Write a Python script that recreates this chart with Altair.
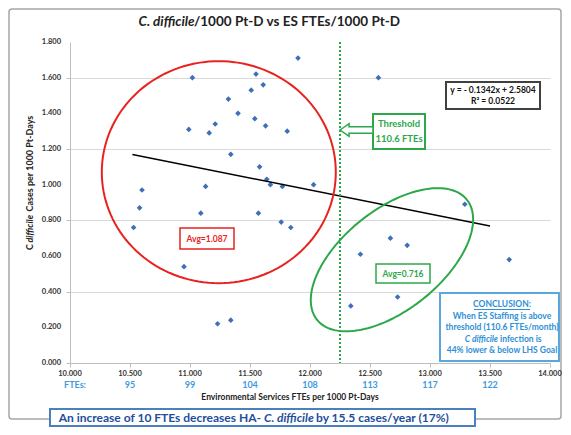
import altair as alt
import pandas as pd
import numpy as np

# ---- data ----
fte_x = [10.53, 10.58, 10.60, 10.95, 10.99, 11.02, 11.09, 11.13, 11.16, 11.21,
         11.23, 11.32, 11.34, 11.34, 11.40, 11.51, 11.54, 11.55, 11.57, 11.58,
         11.61, 11.63, 11.64, 11.67, 11.77, 11.76, 11.81, 11.84, 11.90, 12.03,
         12.34, 12.42, 12.57, 12.67, 12.73, 12.81, 13.29, 13.66]
cdiff_y = [0.76, 0.87, 0.97, 0.54, 1.31, 1.60, 0.84, 0.99, 1.29, 1.34,
           0.22, 1.48, 1.17, 0.24, 1.40, 1.53, 1.37, 1.62, 0.84, 1.10,
           1.56, 1.33, 1.03, 1.00, 0.99, 0.79, 1.30, 0.76, 1.71, 1.00,
           0.32, 0.61, 1.60, 0.70, 0.37, 0.66, 0.89, 0.58]

x_ticks = [10.0, 10.5, 11.0, 11.5, 12.0, 12.5, 13.0, 13.5, 14.0]
y_ticks = [0.0, 0.2, 0.4, 0.6, 0.8, 1.0, 1.2, 1.4, 1.6, 1.8]
fte_tick_x = [10.5, 11.0, 11.5, 12.0, 12.5, 13.0, 13.5]
fte_labels = ["95", "99", "104", "108", "113", "117", "122"]

slope, intercept = -0.1342, 2.5804
trend_x = [10.52, 13.50]
threshold_x = 12.25

# annotation ellipses: centre (data units), semi-axes (px), tilt (deg)
red_ellipse = dict(cx=11.24, cy=1.07, a=117, b=111, tilt=0)
green_ellipse = dict(cx=12.683, cy=0.579, a=96, b=50, tilt=38.7)

W, H = 480, 321
PX_X = W / 4.0     # px per x unit
PX_Y = H / 1.8     # px per y unit
FONT = "Lato"
BLUE_PT = "#3F6FB6"
RED = "#E8231F"
GREEN = "#2CA84A"
LBLUE = "#2E8FD6"
CAP_BLUE = "#1F4E9C"

xs = alt.Scale(domain=[10, 14], nice=False, zero=False)
ys = alt.Scale(domain=[0, 1.8], nice=False)

one = pd.DataFrame({"a": [0]})

def rect(x1, y1, x2, y2, stroke, sw=2, fill="white", fo=1.0, cr=0):
    return alt.Chart(one).mark_rect(stroke=stroke, strokeWidth=sw, fill=fill,
                                    fillOpacity=fo, cornerRadius=cr).encode(
        x=alt.value(x1), x2=alt.value(x2), y=alt.value(y1), y2=alt.value(y2))

def text(x, y, t, size=9, color="#222", align="center", italic=False, angle=0, weight="bold"):
    kw = dict(text=t, font=FONT, fontSize=size, fontWeight=weight, color=color,
              align=align, baseline="middle", angle=angle)
    if italic:
        kw["fontStyle"] = "italic"
    return alt.Chart(one).mark_text(**kw).encode(x=alt.value(x), y=alt.value(y))

def ellipse_layer(e, color):
    t = np.linspace(0, 2 * np.pi, 145)
    phi = np.radians(e["tilt"])
    dx_px = e["a"] * np.cos(t) * np.cos(phi) - e["b"] * np.sin(t) * np.sin(phi)
    dy_px = e["a"] * np.cos(t) * np.sin(phi) + e["b"] * np.sin(t) * np.cos(phi)
    df = pd.DataFrame({"x": e["cx"] + dx_px / PX_X, "y": e["cy"] + dy_px / PX_Y,
                       "o": np.arange(len(t))})
    return alt.Chart(df).mark_line(color=color, strokeWidth=2).encode(
        x=alt.X("x:Q", scale=xs), y=alt.Y("y:Q", scale=ys), order="o:Q")

# outer frame
frame = rect(-61, -33, 491, 377, "#A6A6A6", sw=1.5, fo=0.0, cr=3)

# points with axes (labels drawn as text marks below)
pts = pd.DataFrame({"x": fte_x, "y": cdiff_y})
points = alt.Chart(pts).mark_point(shape="diamond", filled=True, color=BLUE_PT,
                                    size=32, opacity=1).encode(
    x=alt.X("x:Q", scale=xs, axis=alt.Axis(values=x_ticks, title=None, grid=False,
                                           tickSize=4, labels=False)),
    y=alt.Y("y:Q", scale=ys, axis=alt.Axis(values=y_ticks, title=None, grid=True,
                                           tickSize=4, labels=False)))

ylab_df = pd.DataFrame({"v": y_ticks, "lab": [f"{v:.3f}" for v in y_ticks]})
ylabels = alt.Chart(ylab_df).mark_text(font=FONT, fontSize=7.5, fontWeight="bold",
                                       color="#333", align="right", baseline="middle").encode(
    y=alt.Y("v:Q", scale=ys), x=alt.value(-9), text="lab:N")
xlab_df = pd.DataFrame({"v": x_ticks, "lab": [f"{v:.3f}" for v in x_ticks]})
xlabels = alt.Chart(xlab_df).mark_text(font=FONT, fontSize=7.5, fontWeight="bold",
                                       color="#333", baseline="middle").encode(
    x=alt.X("v:Q", scale=xs), y=alt.value(H + 11), text="lab:N")

# trend line
tdf = pd.DataFrame({"x": trend_x, "y": [slope * v + intercept for v in trend_x]})
trend = alt.Chart(tdf).mark_line(color="black", strokeWidth=1.5).encode(
    x=alt.X("x:Q", scale=xs), y=alt.Y("y:Q", scale=ys))

# threshold line
thr = alt.Chart(pd.DataFrame({"x": [threshold_x]})).mark_rule(
    color=GREEN, strokeWidth=2, strokeDash=[2, 2]).encode(
    x=alt.X("x:Q", scale=xs), y=alt.value(0), y2=alt.value(H))

# arrow
arrow = alt.Chart(one).mark_point(
    shape="M -1 0 L -0.45 -0.38 L -0.45 -0.2 L 1 -0.2 L 1 0.2 L -0.45 0.2 L -0.45 0.38 Z",
    filled=True, fill="white", stroke=GREEN, strokeWidth=1.5, size=1089, opacity=1).encode(
    x=alt.value(286.5), y=alt.value(88))

layers = [
    frame, points, ylabels, xlabels, trend, thr,
    ellipse_layer(red_ellipse, RED), ellipse_layer(green_ellipse, GREEN),
    # threshold box
    rect(303, 72, 355, 107, GREEN, sw=2),
    text(329, 82, "Threshold", size=9.5, color=GREEN),
    text(329, 97, "110.6 FTEs", size=9.5, color=GREEN),
    arrow,
    # equation box
    rect(376, 40, 470, 67, "#404040", sw=2),
    text(423, 47.5, "y = - 0.1342x + 2.5804", size=8.5, color="#111"),
    text(423, 59, "R² = 0.0522", size=8.5, color="#111"),
    # avg boxes
    rect(110, 186, 164, 207, RED, sw=1.5),
    text(137, 196.5, "Avg=1.087", size=8.5, color=RED),
    rect(306, 222, 360, 241, GREEN, sw=1.5),
    text(333, 231.5, "Avg=0.716", size=8.5, color=GREEN),
    # conclusion box
    rect(370, 251, 489, 319, "#5AA7E0", sw=2),
    text(432, 262, "CONCLUSION:", size=8.5, color=LBLUE),
    alt.Chart(one).mark_rule(color=LBLUE, strokeWidth=1).encode(
        x=alt.value(404), x2=alt.value(460), y=alt.value(267.5)),
    text(432, 273.5, "When ES Staffing is above", size=8.5, color=LBLUE),
    text(432, 285, "threshold (110.6 FTEs/month)", size=8.5, color=LBLUE),
    text(428, 296.5, "C difficile", size=8.5, color=LBLUE, align="right", italic=True),
    text(430, 296.5, "infection is", size=8.5, color=LBLUE, align="left"),
    text(432, 308, "44% lower & below LHS Goal", size=8.5, color=LBLUE),
    # title
    text(124.5, -20, "C. difficile", size=13.5, color="#222", align="right", italic=True),
    text(124, -20, "/1000 Pt-D vs ES FTEs/1000 Pt-D", size=13.5, color="#222", align="left"),
    # y title (rotated, mixed styles)
    text(-40, 208, "C", size=9, color="#222", align="left", angle=270),
    text(-40, 200.5, "difficile", size=9, color="#222", align="left", angle=270, italic=True),
    text(-40, 169.5, "Cases per 1000 Pt-Days", size=9, color="#222", align="left", angle=270),
    # FTE row
    text(5, 343, "FTEs:", size=9, color="#3D9BE0"),
    # x title
    text(220, 355, "Environmental Services FTEs per 1000 Pt-Days", size=8.5, color="#222"),
    # caption box
    rect(-20, 367, 405, 384, "#4A7FC0", sw=2),
    text(191, 376, "An increase of 10 FTEs decreases HA-", size=12, color=CAP_BLUE, align="right"),
    text(194, 376, "C. difficile", size=12, color=CAP_BLUE, align="left", italic=True),
    text(246, 376, "by 15.5 cases/year (17%)", size=12, color=CAP_BLUE, align="left"),
]

fte_df = pd.DataFrame({"x": fte_tick_x, "lab": fte_labels})
fte_row = alt.Chart(fte_df).mark_text(font=FONT, fontSize=9, fontWeight="bold",
                                      color="#3D9BE0", baseline="middle").encode(
    x=alt.X("x:Q", scale=xs), y=alt.value(343), text="lab:N")
layers.append(fte_row)

chart = alt.layer(*layers).properties(
    width=W, height=H,
    autosize=alt.AutoSizeParams(type="none"),
    padding={"left": 62, "top": 34, "right": 13, "bottom": 64},
    background="white",
).configure_view(stroke=None).configure_axis(
    domainColor="#BFBFBF", tickColor="#BFBFBF", gridColor="#D9D9D9", gridWidth=1.2,
)

chart.save("out.html", embed_options={"renderer": "svg", "actions": False})
